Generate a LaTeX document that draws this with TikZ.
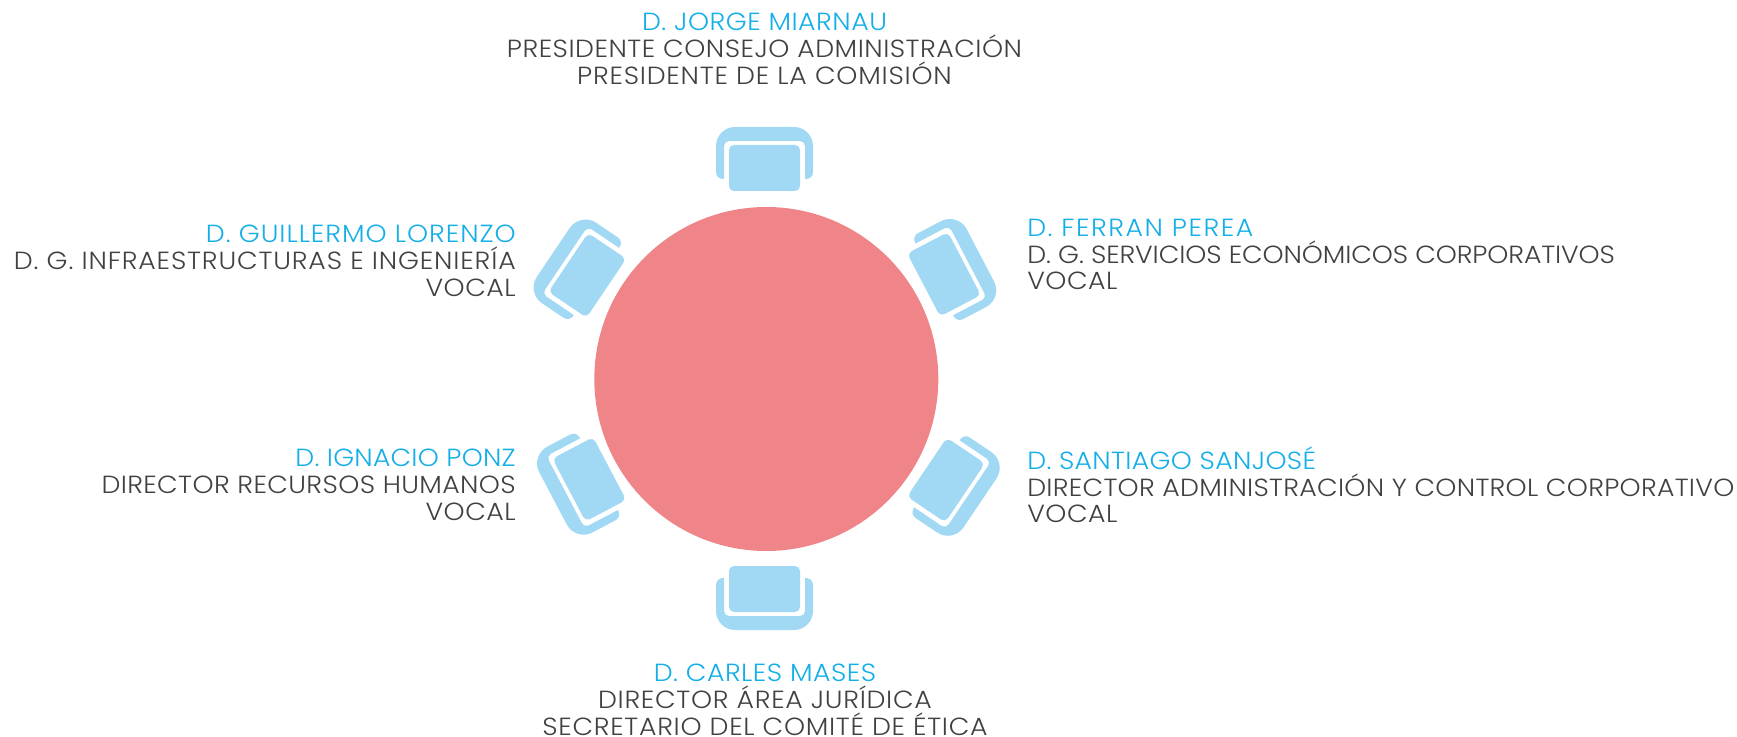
\documentclass[tikz,border=0pt]{standalone}
\usepackage{fontspec}
\setmainfont{Poppins Light}[FakeStretch=1.08,LetterSpace=2]
\definecolor{tablered}{HTML}{F08589}
\definecolor{chairblue}{HTML}{A1D9F5}
\definecolor{nameblue}{HTML}{14AEE8}
\definecolor{rolegray}{HTML}{414042}
\tikzset{
  tablenode/.style={circle,fill=tablered,minimum size=344*0.75pt,inner sep=0pt},
  chairpart/.style={fill=chairblue},
  member/.style={text=rolegray,inner sep=0pt,anchor=north,font=\fontsize{18.6}{20}\selectfont},
  memberleft/.style={member,anchor=north east,align=right},
  memberright/.style={member,anchor=north west,align=left},
  membermid/.style={member,align=center}
}
\newcommand{\nm}[1]{\textcolor{nameblue}{#1}}
\newcommand{\lsp}[2]{{\addfontfeature{LetterSpace=#1}#2}}
\begin{document}
\begin{tikzpicture}[x=0.75pt,y=-0.75pt]
  \useasboundingbox (0,0) rectangle (1737,737);
  % Table
  \node[tablenode] (table) at (766.3,379) {};
  % Chairs
  \foreach \cx/\cy/\ca in {764.5/168/0,764.5/589/180,587.3/275.3/56,944/274.3/-62.4,589.3/479.3/117.8,946/480/-124} {
    \begin{scope}[shift={(\cx,\cy)},rotate=\ca]
      \fill[chairpart] (-40.5,11) -- (-40.5,-22) .. controls (-40.5,-24.75) and (-38.25,-27) .. (-35.5,-27)
        -- (35.5,-27) .. controls (38.25,-27) and (40.5,-24.75) .. (40.5,-22) -- (40.5,11)
        -- (41.5,11) .. controls (45.5,11) and (48.5,8) .. (48.5,4) -- (48.5,-22)
        .. controls (48.5,-32.5) and (40,-41) .. (29.5,-41) -- (-29.5,-41)
        .. controls (-40,-41) and (-48.5,-32.5) .. (-48.5,-22) -- (-48.5,4)
        .. controls (-48.5,8) and (-45.5,11) .. (-41.5,11) -- cycle;
      \fill[chairpart,rounded corners=3.75pt] (-35.5,-23) rectangle (35.5,23);
    \end{scope}
  }
  % Labels
  \node[membermid] (jorge) at (764.5,13) {\nm{D. JORGE MIARNAU}\\PRESIDENTE CONSEJO ADMINISTRACIÓN\\\lsp{3.1}{PRESIDENTE DE LA COMISIÓN}};
  \node[memberleft] (guillermo) at (516,225) {\nm{\lsp{3.8}{D. GUILLERMO LORENZO}}\\\lsp{3.4}{D. G. INFRAESTRUCTURAS E INGENIERÍA}\\VOCAL};
  \node[memberright] (ferran) at (1027,219) {\nm{\lsp{6.2}{D. FERRAN PEREA}}\\\lsp{-0.5}{D. G. SERVICIOS ECONÓMICOS CORPORATIVOS}\\VOCAL};
  \node[memberleft] (ignacio) at (516,449) {\nm{\lsp{0.8}{D. IGNACIO PONZ}}\\\lsp{1.5}{DIRECTOR RECURSOS HUMANOS}\\VOCAL};
  \node[memberright] (santiago) at (1027,446.5) {\nm{\lsp{1.3}{D. SANTIAGO SANJOSÉ}}\\\lsp{1.1}{DIRECTOR ADMINISTRACIÓN Y CONTROL CORPORATIVO}\\VOCAL};
  \node[membermid] (carles) at (765,664) {\nm{D. CARLES MASES}\\\lsp{2.8}{DIRECTOR ÁREA JURÍDICA}\\\lsp{2.8}{SECRETARIO DEL COMITÉ DE ÉTICA}};
\end{tikzpicture}
\end{document}
